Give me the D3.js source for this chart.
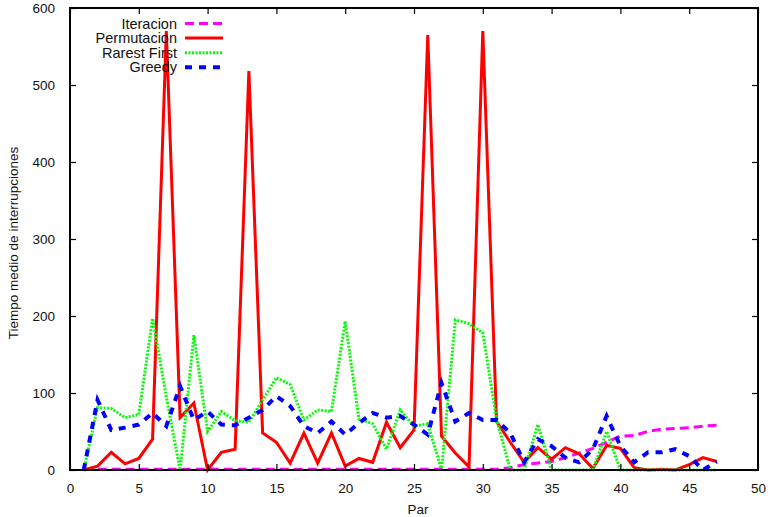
<!DOCTYPE html>
<html><head><meta charset="utf-8">
<script src="https://cdn.jsdelivr.net/npm/d3@7"></script>
<style>body{margin:0;background:#fff}svg{display:block}text{font-family:"Liberation Sans",Arial,sans-serif;font-size:13.5px;fill:#111}</style>
</head><body>
<script>
const xs = d3.range(1, 48);
const iteracion = [1,1,1,1,1,1,1,1,1,1,1,1,1,1,1,1,1,1,1,1,1,1,1,1,1,1,1,1,1,1,1,3,7,9,11,16,22,28,36,44,45,50,53,54,55,57,58];
const permutacion = [0,5,23,8,15,40,570,68,87,0,23,27,518,48,36,9,48,9,48,5,15,10,62,29,52,565,44,22,4,570,63,36,10,29,14,29,21,2,32,28,3,0,1,0,7,16,11];
const rarest = [0,81,80,68,72,197,95,0,175,50,76,64,62,91,120,111,65,78,76,193,66,60,27,78,57,60,0,195,190,178,66,0,0,59,0,0,0,0,50,0,0,0,0,0,0,0,0];
const greedy = [0,91,52,55,59,74,57,109,65,76,59,58,68,78,96,83,57,48,63,46,61,74,68,70,59,46,113,63,74,65,65,48,10,40,31,16,10,27,70,31,10,23,23,27,18,0,11];
const xTicks = [0,5,10,15,20,25,30,35,40,45,50];
const yTicks = [0,100,200,300,400,500,600];
const series = [
  {name:"Iteracion", values: iteracion, color:"#ff00ff", dash:"9,5", width:3},
  {name:"Permutacion", values: permutacion, color:"#ff0000", dash:null, width:3},
  {name:"Rarest First", values: rarest, color:"#00ff00", dash:"2,1.5", width:3},
  {name:"Greedy", values: greedy, color:"#0000ff", dash:"7,7", width:4}
];
const W = 777, H = 517;
const L = 70, R = 758, T = 8, B = 470;
const svg = d3.select("body").append("svg").attr("width", W).attr("height", H);
const x = d3.scaleLinear().domain([0,50]).range([L,R]);
const y = d3.scaleLinear().domain([0,600]).range([B,T]);

const line = d3.line().x((d,i)=>x(xs[i])).y(d=>y(d));
const g = svg.append("g");
series.forEach(s=>{
  g.append("path").datum(s.values).attr("d", line).attr("fill","none")
   .attr("stroke", s.color).attr("stroke-width", s.width)
   .attr("stroke-dasharray", s.dash).attr("stroke-linejoin","miter");
});

const ax = svg.append("g");
ax.append("g").attr("transform",`translate(0,${B})`).call(d3.axisBottom(x).tickValues(xTicks).tickSize(-6).tickPadding(13)).call(a=>{a.select(".domain").remove();});
ax.append("g").attr("transform",`translate(0,${T})`).call(d3.axisTop(x).tickValues(xTicks).tickSize(-6).tickFormat("")).call(a=>{a.select(".domain").remove();});
ax.append("g").attr("transform",`translate(${L},0)`).call(d3.axisLeft(y).tickValues(yTicks).tickSize(-6).tickPadding(15)).call(a=>{a.select(".domain").remove();});
ax.append("g").attr("transform",`translate(${R},0)`).call(d3.axisRight(y).tickValues(yTicks).tickSize(-6).tickFormat("")).call(a=>{a.select(".domain").remove();});
ax.selectAll(".tick line").attr("stroke","#000").attr("stroke-width",1.2);
ax.selectAll(".tick text").style("font-family","Liberation Sans, Arial, sans-serif").style("font-size","13.5px").attr("fill","#111");
svg.append("rect").attr("x",L).attr("y",T).attr("width",R-L).attr("height",B-T).attr("fill","none").attr("stroke","#000").attr("stroke-width",2);

svg.append("text").attr("x",(L+R)/2+4).attr("y",514).attr("text-anchor","middle").text("Par");
svg.append("text").attr("transform",`translate(18,${(T+B)/2+4}) rotate(-90)`).attr("text-anchor","middle").text("Tiempo medio de interrupciones");

const leg = svg.append("g");
series.forEach((s,i)=>{
  const yy = 23.5 + i*14.6;
  leg.append("text").attr("x",177).attr("y",yy+5).attr("text-anchor","end").style("font-size","14.5px").text(s.name);
  leg.append("line").attr("x1",185).attr("x2",223).attr("y1",yy).attr("y2",yy)
    .attr("stroke",s.color).attr("stroke-width",s.width).attr("stroke-dasharray",s.dash);
});
</script>
</body></html>
